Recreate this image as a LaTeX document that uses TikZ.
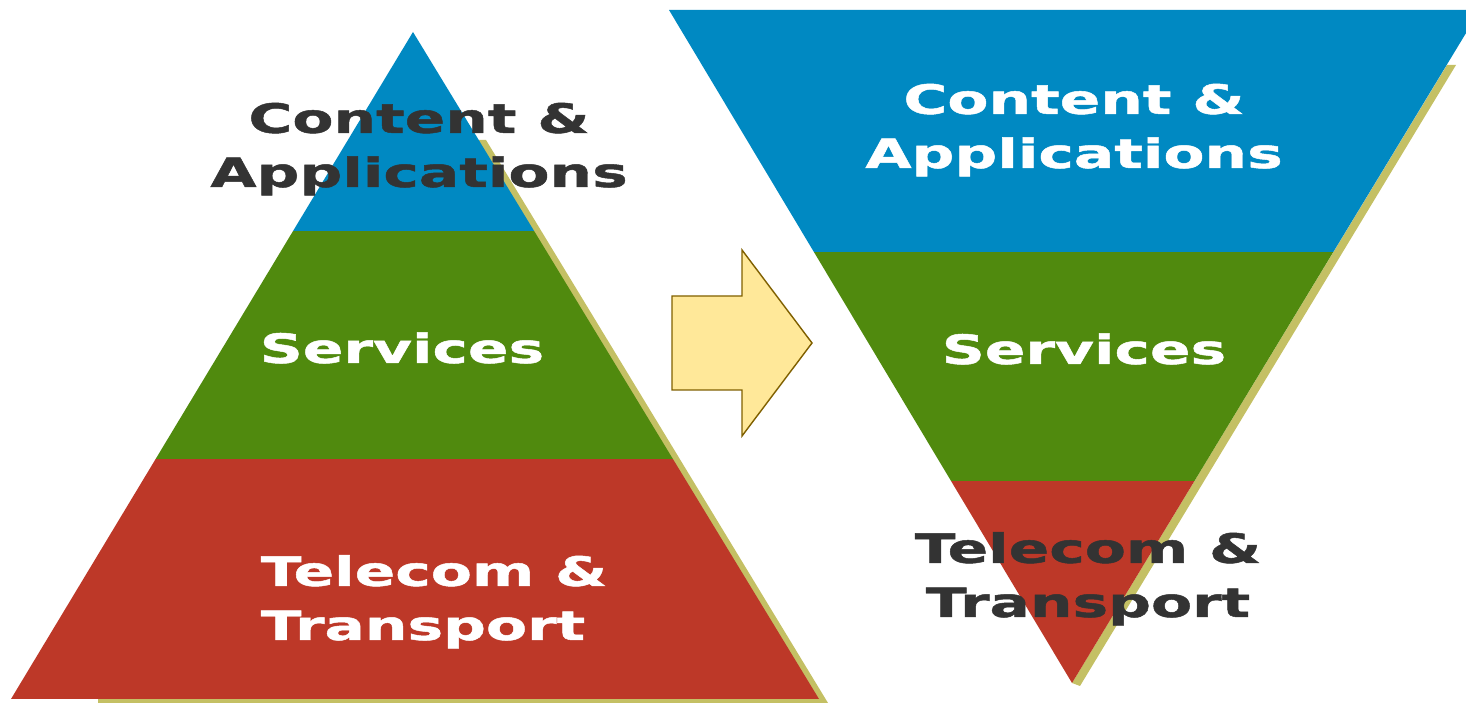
\documentclass[tikz,border=0pt]{standalone}
\usepackage{fontspec}
\usepackage{xcolor}
\usepackage{tikz}
\newfontfamily\etiqfont{DejaVu Sans Bold}[FakeStretch=1.48, FakeBold=1.2]
\definecolor{bleu}{HTML}{0089C2}
\definecolor{vert}{HTML}{508A0E}
\definecolor{rouge}{HTML}{BD3828}
\definecolor{ombre}{HTML}{C4C064}
\definecolor{jaune}{HTML}{FFE899}
\definecolor{brun}{HTML}{806000}
\definecolor{gris}{HTML}{333333}
\tikzset{
    etiq/.style = {inner sep=0pt, align=center, font=\etiqfont\fontsize{11.5}{15.4}\selectfont},
    clair/.style = {text=white},
    sombre/.style = {text=gris},
    c1/.style = {fill=bleu},
    c2/.style = {fill=vert},
    c3/.style = {fill=rouge},
    om/.style = {fill=ombre},
    fleche/.style = {fill=jaune, draw=brun, line width=0.4pt}
}

\begin{document}
\begin{tikzpicture}[x=0.01cm, y=-0.01cm]
                \useasboundingbox[fill=white] (0,0) rectangle (1466,704);
                \coordinate (sA) at (413,32);
                \coordinate (gA) at (11,699);
                \coordinate (dA) at (819,699);
                \fill[om] (478,140) -- (486,140) -- (828,703) -- (98,703) -- (98,690) -- cycle;
                \begin{scope}
                    \clip (sA) -- (gA) -- (dA) -- cycle;
                    \fill[c1] (0,0) rectangle (840,231);
                    \fill[c2] (0,231) rectangle (840,459);
                    \fill[c3] (0,459) rectangle (840,704);
                \end{scope}
                \coordinate (gB) at (669,10);
                \coordinate (dB) at (1480,10);
                \coordinate (sB) at (1072,683);
                \fill[om] (1447,65) -- (1456,65) -- (1080,686) -- (1072,683) -- cycle;
                \begin{scope}
                    \clip (gB) -- (dB) -- (sB) -- cycle;
                    \fill[c1] (660,0) rectangle (1490,252);
                    \fill[c2] (660,252) rectangle (1490,481);
                    \fill[c3] (660,481) rectangle (1490,704);
                \end{scope}
                \draw[fleche] (672,296) -- (742,296) -- (742,250) -- (812,343)
                    -- (742,436) -- (742,390) -- (672,390) -- cycle;
                \node (1A) [etiq, sombre, anchor=base] at (419,187) {Content \&\\Applications};
                \node (2A) [etiq, clair, anchor=base] at (402,363) {Services};
                \node (3A) [etiq, clair, anchor=base west, align=left] at (260,640) {Telecom \&\\Transport};
                \node (1B) [etiq, clair, anchor=base] at (1074,168) {Content \&\\Applications};
                \node (2B) [etiq, clair, anchor=base] at (1084,364) {Services};
                \node (3B) [etiq, sombre, anchor=base] at (1088,617) {Telecom \&\\Transport};
            \end{tikzpicture}
\end{document}
